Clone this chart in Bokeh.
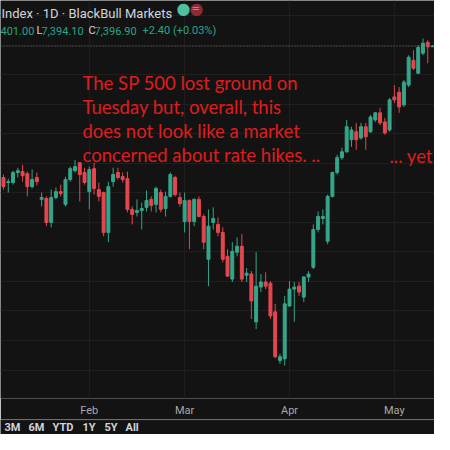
import numpy as np
from bokeh.plotting import figure
from bokeh.models import Range1d, FixedTicker, Span, Label, ColumnDataSource, Grid
from bokeh.layouts import column
from bokeh.embed import file_html
from bokeh.resources import INLINE

# ---- data (daily OHLC, one entry per trading day, mid-Jan .. mid-May) ----
open_ = [6952, 6935, 6935, 6969, 6972, 6965, 6921, 6952, 6878, 6881,
         6800, 6884, 6904, 6861, 6945, 6975, 7002, 6969, 6904, 6982,
         6911, 6901, 6766, 6938, 6969, 6955, 6948, 6844, 6834, 6840,
         6851, 6878, 6861, 6901, 6847, 6888, 6952, 6884, 6803, 6874,
         6803, 6878, 6820, 6675, 6800, 6793, 6766, 6685, 6608, 6699,
         6719, 6621, 6625, 6463, 6581, 6598, 6594, 6497, 6332, 6338,
         6517, 6574, 6584, 6547, 6615, 6648, 6776, 6813, 6736, 6888,
         6969, 7019, 7039, 7080, 7107, 7086, 7124, 7107, 7147, 7171,
         7140, 7113, 7225, 7241, 7198, 7265, 7349, 7305, 7373, 7410, 7395.0]
high = [6962, 6948, 6975, 6985, 6995, 6972, 6979, 6969, 6901, 6888,
        6911, 6918, 6928, 6955, 6989, 7012, 7002, 6985, 6989, 7002,
        6935, 6904, 6938, 6985, 6985, 6969, 6972, 6854, 6878, 6867,
        6908, 6888, 6921, 6911, 6904, 6969, 6958, 6901, 6901, 6878,
        6881, 6888, 6827, 6844, 6851, 6817, 6783, 6709, 6733, 6749,
        6760, 6645, 6635, 6699, 6625, 6631, 6601, 6524, 6355, 6551,
        6601, 6598, 6598, 6618, 6635, 6793, 6837, 6844, 6894, 6972,
        7029, 7053, 7147, 7124, 7137, 7137, 7137, 7164, 7174, 7188,
        7154, 7221, 7265, 7258, 7282, 7366, 7383, 7400, 7423, 7417, 7401.0]
low = [6911, 6901, 6928, 6952, 6938, 6888, 6915, 6925, 6854, 6787,
       6783, 6878, 6888, 6854, 6938, 6969, 6871, 6928, 6844, 6894,
       6871, 6753, 6733, 6921, 6945, 6935, 6834, 6793, 6820, 6776,
       6837, 6837, 6834, 6834, 6820, 6884, 6888, 6854, 6766, 6709,
       6787, 6817, 6709, 6584, 6776, 6753, 6665, 6615, 6598, 6685,
       6598, 6598, 6473, 6439, 6564, 6574, 6473, 6340, 6321, 6315,
       6514, 6463, 6551, 6530, 6598, 6642, 6766, 6793, 6726, 6884,
       6962, 7012, 7036, 7056, 7046, 7080, 7046, 7103, 7140, 7130,
       7097, 7107, 7204, 7171, 7191, 7258, 7316, 7303, 7366, 7339, 7394.1]
close = [6921, 6938, 6969, 6975, 6958, 6921, 6945, 6938, 6884, 6800,
         6884, 6904, 6898, 6945, 6982, 6989, 6962, 6935, 6979, 6915,
         6888, 6766, 6921, 6962, 6952, 6945, 6844, 6827, 6840, 6847,
         6874, 6857, 6915, 6844, 6888, 6962, 6894, 6864, 6874, 6803,
         6878, 6820, 6733, 6787, 6813, 6766, 6675, 6618, 6702, 6719,
         6608, 6628, 6534, 6584, 6598, 6584, 6483, 6345, 6345, 6524,
         6574, 6581, 6564, 6615, 6625, 6776, 6820, 6820, 6888, 6969,
         7019, 7039, 7124, 7113, 7080, 7124, 7090, 7157, 7171, 7137,
         7103, 7215, 7215, 7191, 7275, 7359, 7322, 7393, 7407, 7394.5, 7396.9]

month_idx = [18, 38, 60, 82]          # bar index of first trading day of month
month_names = ["Feb", "Mar", "Apr", "May"]
price_grid = list(range(6200, 7600, 100))
range_buttons = ["3M", "6M", "YTD", "1Y", "5Y", "All"]
note_lines = ["The SP 500 lost ground on",
              "Tuesday but, overall, this",
              "does not look like a market",
              "concerned about rate hikes. .."]
note_tail = "... yet"
title_text = "Index \u00b7 1D \u00b7 BlackBull Markets"

# ---- styling ----
BG = "#131313"
UP = "#35a68a"
DOWN = "#e5474f"
GRID = "#1f1f1f"
NOTE = "#e01c1c"
TEAL = "#2aa58c"
LIGHT = "#d1d4dc"

o = np.array(open_, dtype=float)
c = np.array(close, dtype=float)
idx = np.arange(len(o))
colors = [UP if cc >= oo else DOWN for oo, cc in zip(o, c)]
src = ColumnDataSource(dict(x=idx, high=high, low=low,
                            top=np.maximum(o, c), bottom=np.minimum(o, c),
                            color=colors))

p = figure(width=434, height=419, x_range=Range1d(-0.63, 90.42),
           y_range=Range1d(6203.5, 7551.5), output_backend="svg",
           toolbar_location=None, y_axis_location=None,
           background_fill_color=BG, border_fill_color=BG,
           outline_line_color=None, min_border_left=0, min_border_right=0,
           min_border_top=0, min_border_bottom=19)

# x axis with month labels
p.xaxis.ticker = FixedTicker(ticks=month_idx)
p.xaxis.major_label_overrides = {i: n for i, n in zip(month_idx, month_names)}
p.xaxis.axis_line_color = None
p.xaxis.major_tick_line_color = None
p.xaxis.minor_tick_line_color = None
p.xaxis.major_tick_out = 0
p.xaxis.major_tick_in = 0
p.xaxis.minor_tick_out = 0
p.xaxis.major_label_standoff = 5
p.xaxis.major_label_text_color = "#a9a9a9"
p.xaxis.major_label_text_font = "Roboto"
p.xaxis.major_label_text_font_size = "11px"

p.xgrid.ticker = FixedTicker(ticks=month_idx)
p.xgrid.grid_line_color = GRID
p.add_layout(Grid(dimension=1, ticker=FixedTicker(ticks=price_grid),
                  grid_line_color=GRID))

# candles
p.segment(x0="x", y0="low", x1="x", y1="high", line_color="color",
          line_width=1, source=src)
p.vbar(x="x", width=0.62, top="top", bottom="bottom", fill_color="color",
       line_color="color", line_width=1, source=src)

# last price dotted line
p.add_layout(Span(location=close[-1], dimension="width", line_color="#6e6e6e",
                  line_dash="1 2", line_width=1))


def lab(fig, text, x, y, color, size, font="Roboto", baseline="alphabetic", **kw):
    fig.add_layout(Label(x=x, y=y, x_units="screen", y_units="screen", text=text,
                         text_color=color, text_font_size=size, text_font=font,
                         text_baseline=baseline, **kw))


# header (screen y measured up from the frame bottom)
lab(p, title_text, 1, 385, LIGHT, "13px")
chg = close[-1] - close[-2]
lab(p, f"{high[-1]:,.2f}"[2:], 0, 368, TEAL, "11px")
lab(p, "L", 36, 368, LIGHT, "11px")
lab(p, f"{low[-1]:,.2f}", 41, 368, TEAL, "11px")
lab(p, "C", 88, 368, LIGHT, "11px")
lab(p, f"{close[-1]:,.2f}", 94, 368, TEAL, "11px")
lab(p, f"{chg:+.2f} ({chg / close[-2] * 100:+.2f}%)", 142, 368, TEAL, "11px")
lab(p, "\u25cf", 176, 390, "#4fbf9f", "16px", font="DejaVu Sans", baseline="middle")
lab(p, "\u25cf", 189, 390, "#8c2a38", "16px", font="DejaVu Sans", baseline="middle")
lab(p, "=", 191, 390, "#f06a74", "10px", font="DejaVu Sans", baseline="middle")

# annotation text
for k, line in enumerate(note_lines):
    lab(p, line, 82, 316 - 24.3 * k, NOTE, "18.5px", font="Lato")
lab(p, note_tail, 389, 243, NOTE, "18.5px", font="Lato")

# bottom range bar
p2 = figure(width=434, height=15, x_range=Range1d(0, 1), y_range=Range1d(0, 1),
            output_backend="svg", toolbar_location=None,
            x_axis_location=None, y_axis_location=None,
            background_fill_color=BG, border_fill_color=BG,
            outline_line_color=None, min_border=0)
p2.xgrid.visible = False
p2.ygrid.visible = False
p2.add_layout(Span(location=0.97, dimension="width", line_color="#2b2b2b",
                   line_width=1))
for name, bx in zip(range_buttons, [4, 28, 52, 82, 104, 125]):
    lab(p2, name, bx, 7, LIGHT, "11px", baseline="middle",
        text_font_style="bold")

layout = column(p, p2, spacing=0)
open("out.html", "w").write(file_html(layout, INLINE))
